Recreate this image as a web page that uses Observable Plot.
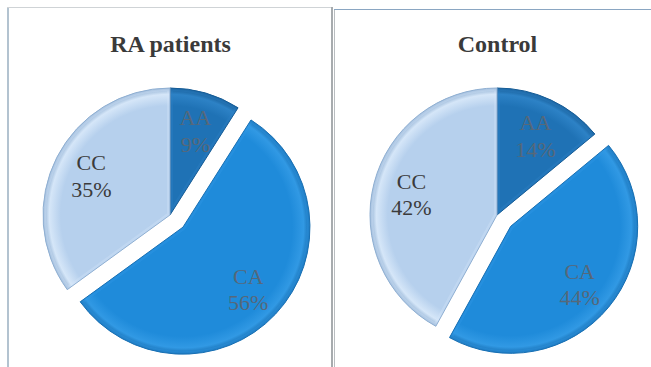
<!DOCTYPE html>
<html>
<head>
<meta charset="utf-8">
<script src="https://cdn.jsdelivr.net/npm/d3@7"></script>
<script src="https://cdn.jsdelivr.net/npm/@observablehq/plot@0.6"></script>
<style>
  html, body { margin: 0; padding: 0; background: #fff; }
  #fig { position: relative; width: 651px; height: 367px; overflow: hidden; background: #fff; }
  .plot { position: absolute; top: 0; }
  .plot svg { display: block; background: transparent; }
  .rule { position: absolute; }
</style>
</head>
<body>
<div id="fig">
  <div class="rule" style="left:7px;top:7px;width:2px;height:360px;background:#b3c3d0"></div>
  <div class="rule" style="left:7px;top:7px;width:326px;height:1px;background:#cfd3d6"></div>
  <div class="rule" style="left:331px;top:7px;width:2px;height:360px;background:#a7abae"></div>
  <div class="rule" style="left:334px;top:9px;width:1px;height:358px;background:#b9bdc0"></div>
  <div class="rule" style="left:334px;top:9px;width:317px;height:1px;background:#8aa6c2"></div>
  <div class="plot" id="left" style="left:0px"></div>
  <div class="plot" id="right" style="left:333px"></div>
</div>
<script>
// Genotype distribution (percent) for the two groups
const groups = ["RA patients", "Control"];
const genotypes = ["AA", "CA", "CC"];
const raPatients = [9, 56, 35];
const control = [14, 44, 42];
const explodedGenotype = "CA";

// Slice colours per genotype: [base, rim highlight, edge]
const sliceColors = {
  AA: ["#1f72b5", "#2d82c6", "#165c96"],
  CA: ["#1f8bda", "#3199e4", "#176fb3"],
  CC: ["#b6d0ed", "#d5e6f8", "#8fafd2"]
};
const labelColors = {AA: "#56687a", CA: "#56687a", CC: "#3b3b3b"};

const explode = 0.14;      // offset of the pulled-out slice, in radius units
const labelRadius = 0.7;   // label position, in radius units

function rowsFor(values) {
  const arcs = d3.pie().sort(null).startAngle(0).value(d => d.value)(
    genotypes.map((g, i) => ({genotype: g, value: values[i]}))
  );
  return arcs.map(a => {
    const mid = (a.startAngle + a.endAngle) / 2;
    const off = a.data.genotype === explodedGenotype ? explode : 0;
    return {
      genotype: a.data.genotype,
      value: a.data.value,
      startAngle: a.startAngle,
      endAngle: a.endAngle,
      dx: off * Math.sin(mid),
      dy: off * Math.cos(mid),
      lx: (labelRadius + off) * Math.sin(mid),
      ly: (labelRadius + off) * Math.cos(mid)
    };
  });
}

// Pie slices drawn through the plot's x and y scales
function pieSlices(rows, key) {
  return (index, scales) => {
    const {x, y} = scales;
    const r = x(1) - x(0);
    const g = d3.create("svg:g");
    const defs = g.append("defs");
    rows.forEach((d, i) => {
      const cx = x(d.dx), cy = y(d.dy);
      const [base, rim, edge] = sliceColors[d.genotype];
      const gid = `grad-${key}-${i}`, cid = `clip-${key}-${i}`;
      // gradient and clip live in the slice's local (translated) frame
      const grad = defs.append("radialGradient")
        .attr("id", gid).attr("gradientUnits", "userSpaceOnUse")
        .attr("cx", 0).attr("cy", 0).attr("r", r);
      grad.append("stop").attr("offset", "0%").attr("stop-color", base);
      grad.append("stop").attr("offset", "86%").attr("stop-color", base);
      grad.append("stop").attr("offset", "95%").attr("stop-color", rim);
      grad.append("stop").attr("offset", "100%").attr("stop-color", edge);
      const path = d3.arc().innerRadius(0).outerRadius(r)
        .startAngle(d.startAngle).endAngle(d.endAngle)();
      defs.append("clipPath").attr("id", cid).append("path").attr("d", path);
      const s = g.append("g").attr("transform", `translate(${cx},${cy})`);
      s.append("path").attr("d", path).attr("fill", `url(#${gid})`);
      // soft bevel along the straight edges
      s.append("path").attr("d", path)
        .attr("fill", "none").attr("stroke", rim).attr("stroke-width", 6)
        .attr("stroke-opacity", 0.35)
        .attr("clip-path", `url(#${cid})`);
      s.append("path").attr("d", path)
        .attr("fill", "none").attr("stroke", edge).attr("stroke-width", 1);
    });
    return g.node();
  };
}

function pieChart(title, values, key, width, cx) {
  const rows = rowsFor(values);
  const R = 127, cy = 215;
  return Plot.plot({
    width,
    height: 367,
    margin: 0,
    x: {domain: [-1, 1], range: [cx - R, cx + R], axis: null},
    y: {domain: [-1, 1], range: [cy + R, cy - R], axis: null},
    style: {background: "transparent", overflow: "visible"},
    marks: [
      pieSlices(rows, key),
      Plot.text(rows, {
        x: "lx",
        y: "ly",
        text: d => `${d.genotype}\n${d.value}%`,
        fill: d => labelColors[d.genotype],
        fontFamily: "Liberation Serif, Times New Roman, serif",
        fontSize: 22,
        lineHeight: 1.2
      }),
      Plot.text([title], {
        x: 0,
        frameAnchor: "top",
        lineAnchor: "middle",
        dy: 44,
        text: d => d,
        fill: "#3a3a3a",
        fontFamily: "Liberation Serif, Times New Roman, serif",
        fontWeight: "bold",
        fontSize: 24
      })
    ]
  });
}

document.getElementById("left").append(pieChart(groups[0], raPatients, "ra", 333, 170));
document.getElementById("right").append(pieChart(groups[1], control, "ctl", 318, 164));
</script>
</body>
</html>
